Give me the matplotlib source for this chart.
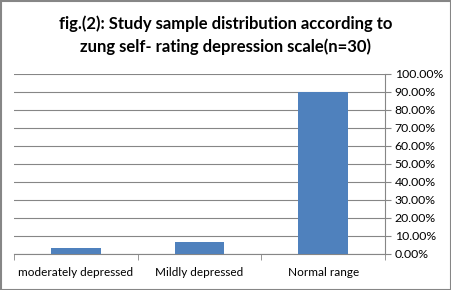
import matplotlib
matplotlib.use("Agg")
import matplotlib.pyplot as plt
from matplotlib.patches import Rectangle

categories = ["moderately depressed", "Mildly depressed", "Normal range"]
values = [3.33, 6.67, 90.0]
yticks = [0, 10, 20, 30, 40, 50, 60, 70, 80, 90, 100]
title = "fig.(2): Study sample distribution according to\nzung self- rating depression scale(n=30)"

plt.rcParams['font.family'] = ['Lato', 'DejaVu Sans']

fig = plt.figure(figsize=(4.52, 2.90), dpi=100)
W, H = 452, 290
ax = fig.add_axes([14 / W, 1 - 254 / H, (385 - 14) / W, (254 - 74) / H])

x = list(range(len(categories)))
ax.bar(x, values, width=0.4, color="#4F81BD", zorder=3)
ax.set_xlim(-0.5, 2.5)
ax.set_ylim(0, 100)
ax.set_yticks(yticks)
ax.set_yticklabels([f"{v:.2f}%" for v in yticks], fontsize=8.8)
ax.yaxis.tick_right()
ax.tick_params(axis='y', direction='out', length=4, pad=3, labelcolor="#000000", color="#868686")
ax.set_xticks(x)
ax.set_xticklabels(categories, fontsize=8.5)
ax.tick_params(axis='x', length=0, pad=9)
ax.set_xticks([-0.5, 0.5, 1.5, 2.5], minor=True)
ax.tick_params(axis='x', which='minor', length=4, direction='out', color="#868686")
ax.grid(axis='y', color="#868686", linewidth=0.8, zorder=0)
for s in ['top', 'left']:
    ax.spines[s].set_visible(False)
ax.spines['right'].set_color("#868686")
ax.spines['bottom'].set_color("#868686")

fig.text(0.5, 1 - 35 / H, title, ha='center', va='center', fontsize=12,
         fontweight='bold', linespacing=1.45)

fig.patches.append(Rectangle((0.5 / W, 0.5 / H), (W - 1.5) / W, (H - 1.5) / H,
                             transform=fig.transFigure, fill=False,
                             edgecolor="#868686", linewidth=1.5))

fig.savefig("out.png", dpi=100)
